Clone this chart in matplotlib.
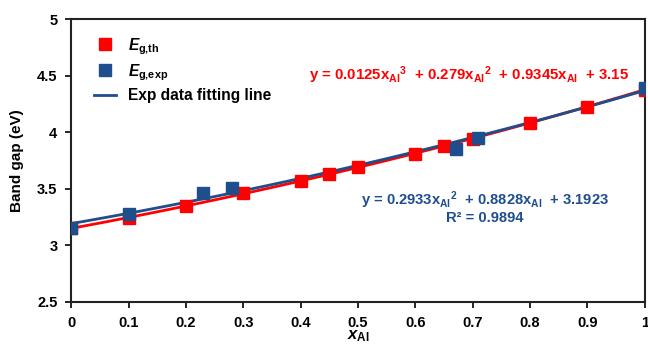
import numpy as np
import matplotlib
matplotlib.use("Agg")
import matplotlib.pyplot as plt

plt.rcParams['font.family'] = 'Liberation Sans'
plt.rcParams['font.weight'] = 'bold'
plt.rcParams['axes.labelweight'] = 'bold'
plt.rcParams['mathtext.fontset'] = 'custom'
plt.rcParams['mathtext.rm'] = 'Liberation Sans:bold'
plt.rcParams['mathtext.it'] = 'Liberation Sans:italic:bold'
plt.rcParams['mathtext.bf'] = 'Liberation Sans:bold'

# theoretical band gap
x_th = [0, 0.1, 0.2, 0.3, 0.4, 0.45, 0.5, 0.6, 0.65, 0.7, 0.8, 0.9, 1.0]
eg_th = [3.15, 3.24, 3.35, 3.46, 3.57, 3.63, 3.69, 3.81, 3.88, 3.94, 4.08, 4.22, 4.37]

# experimental band gap
x_exp = [0, 0.1, 0.23, 0.28, 0.67, 0.71, 1.0]
eg_exp = [3.15, 3.28, 3.46, 3.51, 3.85, 3.95, 4.39]

# fit coefficients shown on the chart (highest power first)
th_coef = [0.0125, 0.279, 0.9345, 3.15]
exp_coef = [0.2933, 0.8828, 3.1923]

RED = '#FF0000'
BLUE = '#1F4E8C'

fig = plt.figure(figsize=(6.48, 3.47), dpi=100)
ax = fig.add_axes([0.110, 0.130, 0.885, 0.815])

xx = np.linspace(0, 1, 101)
ax.plot(xx, np.polyval(th_coef, xx), color=RED, lw=2, zorder=2)
ax.plot(xx, np.polyval(exp_coef, xx), color=BLUE, lw=2, zorder=3, label='Exp data fitting line')
ax.plot(x_th, eg_th, 's', color=RED, ms=8.3, ls='none', zorder=4, label=r'$E_{\mathrm{g{,}th}}$')
ax.plot(x_exp, eg_exp, 's', color=BLUE, ms=8.3, ls='none', zorder=5, label=r'$E_{\mathrm{g{,}exp}}$')

ax.set_xlim(0, 1)
ax.set_ylim(2.5, 5)
ax.set_xticks(np.arange(0, 1.01, 0.1))
ax.set_xticklabels(['0', '0.1', '0.2', '0.3', '0.4', '0.5', '0.6', '0.7', '0.8', '0.9', '1'])
ax.set_yticks(np.arange(2.5, 5.01, 0.5))
ax.set_yticklabels(['2.5', '3', '3.5', '4', '4.5', '5'])
ax.tick_params(direction='out', length=4, width=1.2, labelsize=10.5, pad=6)
for s in ax.spines.values():
    s.set_linewidth(1.5)
    s.set_color('#222222')

ax.set_xlabel(r'$x_{\mathrm{Al}}$', fontsize=12, labelpad=-1)
ax.set_ylabel('Band gap (eV)', fontsize=11, fontweight='bold', labelpad=9)

h, l = ax.get_legend_handles_labels()
order = [1, 2, 0]
ax.legend([h[i] for i in order], [l[i] for i in order], loc='upper left', frameon=False,
          fontsize=11.2, handlelength=1.4, handletextpad=0.8, labelspacing=0.35,
          bbox_to_anchor=(0.015, 0.99))

ax.text(0.693, 0.80,
        r'y = 0.0125$\mathrm{x}_{\mathrm{Al}}{}^{3}$  + 0.279$\mathrm{x}_{\mathrm{Al}}{}^{2}$  + 0.9345$\mathrm{x}_{\mathrm{Al}}$  + 3.15',
        transform=ax.transAxes, color=RED, fontsize=10.8, ha='center', va='center')
ax.text(0.721, 0.336,
        r'y = 0.2933$\mathrm{x}_{\mathrm{Al}}{}^{2}$  + 0.8828$\mathrm{x}_{\mathrm{Al}}$  + 3.1923' + '\nR² = 0.9894',
        transform=ax.transAxes, color=BLUE, fontsize=10.6, ha='center', va='center', linespacing=1.0,
        multialignment='center')

fig.savefig('out.png', dpi=100)
